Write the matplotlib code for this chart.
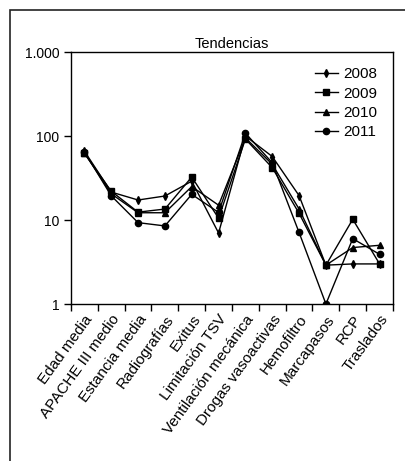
import matplotlib
matplotlib.use('Agg')
import matplotlib.pyplot as plt
from matplotlib.patches import Rectangle
import numpy as np

plt.rcParams['font.family'] = ['Liberation Sans', 'DejaVu Sans']

# categorias y valores por año
categorias = ['Edad media', 'APACHE III medio', 'Estancia media', 'Radiografías',
              'Exitus', 'Limitación TSV', 'Ventilación mecánica', 'Drogas vasoactivas',
              'Hemofiltro', 'Marcapasos', 'RCP', 'Traslados']
v2008 = [66, 21.5, 17.3, 19.3, 29, 7.0, 100, 57, 19.5, 2.9, 3.0, 3.0]
v2009 = [62, 22, 12.4, 13.5, 32.5, 10.5, 92, 42, 12, 2.9, 10.2, 3.0]
v2010 = [63, 20.5, 12.2, 12.2, 25, 15, 95, 46, 13.5, 2.9, 4.7, 5.0]
v2011 = [65, 19.4, 9.3, 8.5, 20.2, 12.3, 108, 48, 7.1, 1.0, 6.0, 3.9]
anios = ['2008', '2009', '2010', '2011']
marcadores = ['d', 's', '^', 'o']
tam = [4, 4.5, 5, 4.5]

fig = plt.figure(figsize=(4.06, 4.61), dpi=100)
# marco exterior
fig.patches.append(Rectangle((10 / 406, -0.1), 1.2, 1 - 10 / 461 + 0.1,
                             transform=fig.transFigure, fill=False,
                             edgecolor='#222222', linewidth=1.2))

ax = fig.add_axes([71 / 406, 1 - 304 / 461, 322 / 406, 252 / 461])
x = np.arange(len(categorias))
for serie, nombre, m, s in zip([v2008, v2009, v2010, v2011], anios, marcadores, tam):
    ax.plot(x, serie, color='black', marker=m, markersize=s, linewidth=1,
            label=nombre)

ax.set_yscale('log')
ax.set_ylim(1, 1000)
ax.set_yticks([1, 10, 100, 1000])
ax.set_yticklabels(['1', '10', '100', '1.000'])
ax.yaxis.set_minor_locator(matplotlib.ticker.NullLocator())
ax.tick_params(axis='y', direction='out', length=5, labelsize=10, width=1)

ax.set_xlim(-0.5, len(categorias) - 0.5)
ax.set_xticks(x)
ax.set_xticklabels(categorias, rotation=54, ha='right', rotation_mode='anchor',
                   fontsize=11)
ax.set_xticks(np.arange(-0.5, len(categorias)), minor=True)
ax.tick_params(axis='x', which='major', length=0, pad=6)
ax.tick_params(axis='x', which='minor', length=5, width=1, direction='out')

for sp in ax.spines.values():
    sp.set_linewidth(1)

ax.set_title('Tendencias', fontsize=10.5, pad=3)
ax.legend(loc='upper right', frameon=False, fontsize=11, handlelength=1.5,
          handletextpad=0.4, labelspacing=0.35, borderaxespad=0.6)

fig.savefig('out.png', dpi=100)
